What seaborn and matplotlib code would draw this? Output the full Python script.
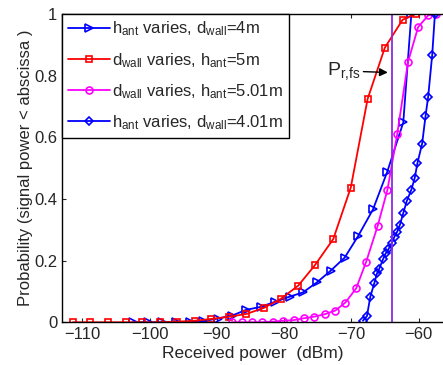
import numpy as np
import pandas as pd
import matplotlib
matplotlib.use('Agg')
import matplotlib.pyplot as plt
import seaborn as sns

sns.set_style('ticks')
plt.rcParams['font.family'] = ['Liberation Sans', 'DejaVu Sans']
plt.rcParams['mathtext.default'] = 'regular'

# CDF curves
# h_ant varies, d_wall = 4m
hant4_x = [-102.5, -100.3, -98.2, -96.1, -94.0, -92.0, -89.9, -87.7, -85.7, -83.5, -81.4,
           -79.2, -77.2, -75.1, -73.1, -71.0, -69.0, -66.8, -64.7, -62.3, -61.1]
hant4_p = [0, 0, 0, 0, 0.002, 0.004, 0.012, 0.022, 0.04, 0.05, 0.066,
           0.083, 0.097, 0.13, 0.167, 0.21, 0.28, 0.366, 0.487, 0.648, 1.0]

# d_wall varies, h_ant = 5m
dwall5_x = [-111.4, -108.8, -106.2, -103.5, -101.1, -98.5, -95.9, -93.3, -90.8, -88.2, -85.6,
            -83.0, -80.5, -77.9, -75.4, -72.7, -70.1, -67.6, -65.05, -62.4, -60.45]
dwall5_p = [0, 0, 0, 0, 0, 0, 0.002, 0.005, 0.011, 0.018, 0.027,
            0.047, 0.076, 0.119, 0.186, 0.27, 0.437, 0.724, 0.89, 0.981, 1.0]

# d_wall varies, h_ant = 5.01m
dwall501_x = [-87.8, -86.3, -84.8, -83.3, -81.7, -80.2, -78.6, -77.1, -75.6, -74.0, -72.4,
              -70.9, -69.3, -67.8, -66.1, -64.65, -63.2, -61.6, -60.1, -58.6, -57.4]
dwall501_p = [0, 0, 0, 0, 0.002, 0.005, 0.007, 0.013, 0.018, 0.026, 0.038,
              0.064, 0.11, 0.197, 0.313, 0.43, 0.61, 0.844, 0.957, 0.995, 1.0]

# h_ant varies, d_wall = 4.01m
hant401_x = [-68.3, -67.7, -67.2, -66.6, -66.2, -65.9, -65.3, -64.9, -64.5, -64.0, -63.6, -63.2,
             -62.8, -62.3, -61.8, -61.1, -60.6, -60.2, -59.5, -59.0, -58.6, -58.0, -57.6]
hant401_p = [0.005, 0.02, 0.083, 0.127, 0.159, 0.172, 0.205, 0.224, 0.237, 0.258, 0.278, 0.294,
             0.316, 0.354, 0.392, 0.43, 0.468, 0.516, 0.579, 0.668, 0.732, 0.868, 1.0]

p_rfs = -64.05

fig = plt.figure(figsize=(4.43, 3.65), dpi=100)
ax = fig.add_axes([0.140, 0.117, 0.86, 0.845])

series = [
    (hant4_x, hant4_p, '#0000ff', '>', r'h$_{ant}$ varies, d$_{wall}$=4m'),
    (dwall5_x, dwall5_p, '#ff0000', 's', r'd$_{wall}$ varies, h$_{ant}$=5m'),
    (dwall501_x, dwall501_p, '#ff00ff', 'o', r'd$_{wall}$ varies, h$_{ant}$=5.01m'),
    (hant401_x, hant401_p, '#0000ff', 'D', r'h$_{ant}$ varies, d$_{wall}$=4.01m'),
]
for xs, ps, col, mk, lab in series:
    df = pd.DataFrame({'x': xs, 'p': ps})
    ms = {'>': 5.5, 's': 4.5, 'o': 5, 'D': 4}[mk]
    sns.lineplot(data=df, x='x', y='p', ax=ax, color=col, marker=mk, markersize=ms,
                 markerfacecolor='none', markeredgecolor=col, markeredgewidth=1.2,
                 linewidth=1.3, sort=False, estimator=None, label=lab)

ax.axvline(p_rfs, color='#8a2be2', linewidth=1.3)

ax.annotate(r'P$_{r{,}fs}$', xy=(-64.6, 0.81), xytext=(-73.7, 0.815), fontsize=14,
            ha='left', va='center',
            arrowprops=dict(arrowstyle='-|>', color='k', lw=1.0, shrinkA=0, shrinkB=0,
                            mutation_scale=12))

ax.set_xlim(-113, -56.4)
ax.set_ylim(0, 1)
ax.set_xticks([-110, -100, -90, -80, -70, -60])
ax.set_yticks([0, 0.2, 0.4, 0.6, 0.8, 1])
ax.set_yticklabels(['0', '0.2', '0.4', '0.6', '0.8', '1'])
ax.tick_params(direction='in', top=True, labelsize=12, length=3, width=0.8)
ax.spines['right'].set_visible(False)
for s in ['left', 'top', 'bottom']:
    ax.spines[s].set_linewidth(1.0)
    ax.spines[s].set_color('k')

ax.set_xlabel('Received power  (dBm)', fontsize=12.5, labelpad=3)
ax.set_ylabel('Probability (signal power < abscissa )', fontsize=12, labelpad=1)

leg = ax.legend(loc='upper left', borderaxespad=0, fontsize=12, handlelength=2.5,
                handletextpad=0.15, labelspacing=0.75, borderpad=0.35, fancybox=False,
                framealpha=1)
leg.get_frame().set_edgecolor('k')
leg.get_frame().set_linewidth(1.0)

fig.savefig('out.png', dpi=100)
